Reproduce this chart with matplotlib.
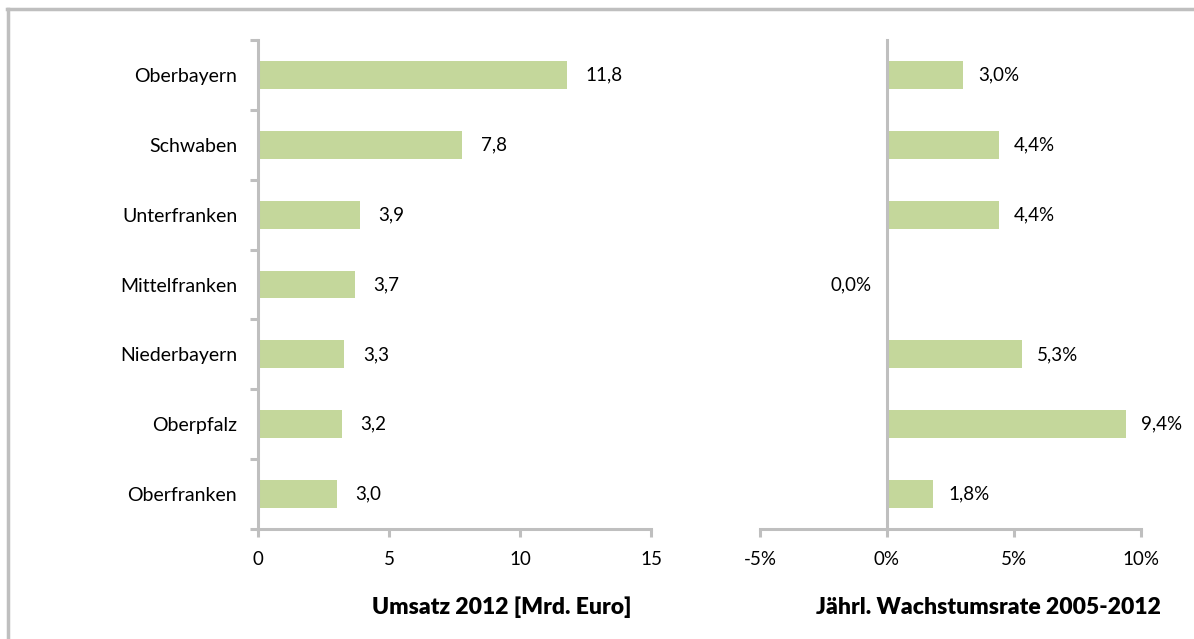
import numpy as np
import matplotlib.pyplot as plt
from matplotlib.lines import Line2D

regions = ["Oberbayern", "Schwaben", "Unterfranken", "Mittelfranken",
           "Niederbayern", "Oberpfalz", "Oberfranken"]
umsatz = [11.8, 7.8, 3.9, 3.7, 3.3, 3.2, 3.0]
wachstum = [3.0, 4.4, 4.4, 0.0, 5.3, 9.4, 1.8]

bar_color = '#C4D79B'
grey = '#BFBFBF'
plt.rcParams['font.family'] = ['Lato', 'DejaVu Sans']

fig = plt.figure(figsize=(11.94, 6.39), dpi=100)
ax1 = fig.add_axes([0.2161, 0.1721, 0.3291, 0.7653])
ax2 = fig.add_axes([0.6365, 0.1721, 0.3191, 0.7653])

y = np.arange(len(regions))

# left panel: Umsatz
ax1.barh(y, umsatz, height=0.4, color=bar_color)
for yi, v in zip(y, umsatz):
    ax1.text(v + 0.7, yi, f"{v:.1f}".replace('.', ','), va='center', ha='left', fontsize=13.5)
ax1.set_xlim(0, 15)
ax1.set_ylim(len(regions) - 0.5, -0.5)
ax1.set_xticks([0, 5, 10, 15])
ax1.set_yticks(y)
ax1.set_yticklabels(regions)
ax1.set_yticks(np.arange(-0.5, len(regions)), minor=True)
ax1.tick_params(axis='y', which='major', length=0, pad=15, labelsize=14)
ax1.tick_params(axis='y', which='minor', length=6, width=2.2, color=grey)
ax1.tick_params(axis='x', length=6, width=2.2, color=grey, pad=10, labelsize=13.5)
for s in ['top', 'right']:
    ax1.spines[s].set_visible(False)
for s in ['left', 'bottom']:
    ax1.spines[s].set_color(grey)
    ax1.spines[s].set_linewidth(2.2)

# right panel: Wachstumsrate
ax2.barh(y, wachstum, height=0.4, color=bar_color)
for yi, v in zip(y, wachstum):
    lab = f"{v:.1f}%".replace('.', ',')
    if v == 0:
        ax2.text(-0.6, yi, lab, va='center', ha='right', fontsize=13.5)
    else:
        ax2.text(v + 0.6, yi, lab, va='center', ha='left', fontsize=13.5)
ax2.set_xlim(-5, 10)
ax2.set_ylim(len(regions) - 0.5, -0.5)
ax2.set_xticks([-5, 0, 5, 10])
ax2.set_xticklabels(['-5%', '0%', '5%', '10%'])
ax2.set_yticks([])
ax2.tick_params(axis='x', length=6, width=2.2, color=grey, pad=10, labelsize=13.5)
ax2.spines['left'].set_position(('data', 0))
for s in ['top', 'right']:
    ax2.spines[s].set_visible(False)
for s in ['left', 'bottom']:
    ax2.spines[s].set_color(grey)
    ax2.spines[s].set_linewidth(2.2)

fig.text(0.42, 0.05, "Umsatz 2012 [Mrd. Euro]", ha='center', va='center',
         fontsize=16.5, fontweight='heavy')
fig.text(0.828, 0.05, "Jährl. Wachstumsrate 2005-2012", ha='center', va='center',
         fontsize=16.5, fontweight='heavy')

# outer frame
fig.add_artist(Line2D([0.006, 1.0], [0.986, 0.986], transform=fig.transFigure, color=grey, lw=2.5))
fig.add_artist(Line2D([0.007, 0.007], [0.0, 0.986], transform=fig.transFigure, color=grey, lw=2.5))

fig.savefig('out.png', dpi=100)
